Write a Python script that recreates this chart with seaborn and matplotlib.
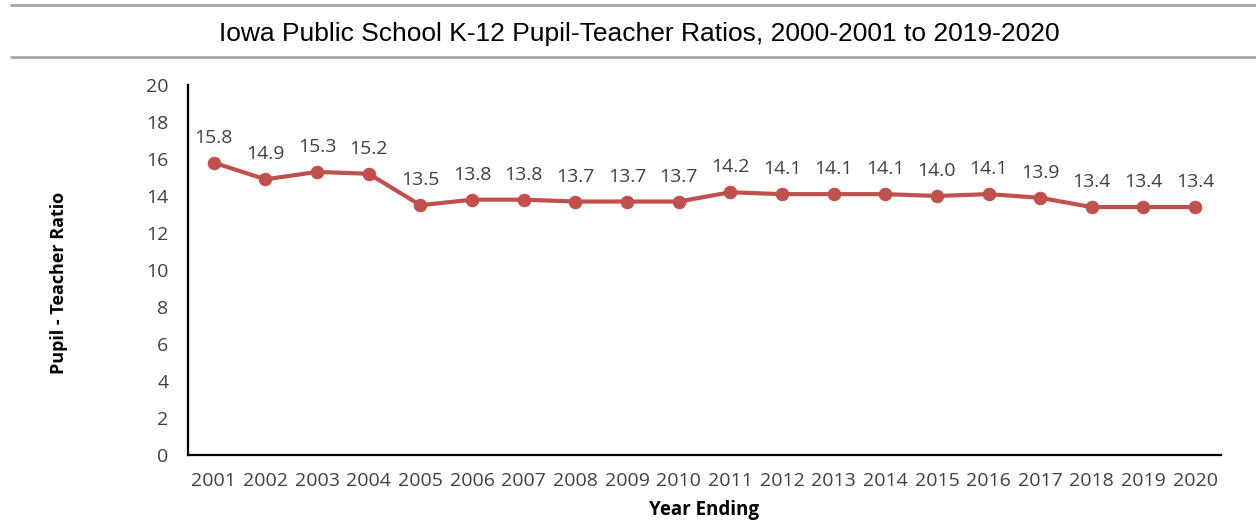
import matplotlib
matplotlib.use("Agg")
import matplotlib.pyplot as plt
from matplotlib.lines import Line2D
import pandas as pd
import seaborn as sns

# Chart data
years = ["2001", "2002", "2003", "2004", "2005", "2006", "2007", "2008", "2009", "2010",
         "2011", "2012", "2013", "2014", "2015", "2016", "2017", "2018", "2019", "2020"]
ratios = [15.8, 14.9, 15.3, 15.2, 13.5, 13.8, 13.8, 13.7, 13.7, 13.7,
          14.2, 14.1, 14.1, 14.1, 14.0, 14.1, 13.9, 13.4, 13.4, 13.4]
y_ticks = [0, 2, 4, 6, 8, 10, 12, 14, 16, 18, 20]

df = pd.DataFrame({"year": years, "ratio": ratios})
df["pos"] = range(len(df))

sns.set_style("white")
plt.rcParams["font.family"] = ["Open Sans", "DejaVu Sans"]

line_color = "#C0504D"
text_color = "#404040"

fig = plt.figure(figsize=(12.56, 5.22), dpi=100)
ax = fig.add_axes([0.1497, 0.1284, 0.8224, 0.7088])

sns.lineplot(data=df, x="pos", y="ratio", ax=ax, color=line_color, linewidth=3,
             marker="o", markersize=9, markeredgecolor=line_color)

# value labels above each point
for _, row in df.iterrows():
    ax.annotate(f"{row['ratio']:.1f}", (row["pos"], row["ratio"]),
                xytext=(0, 18), textcoords="offset points", ha="center", va="center",
                fontsize=14, color=text_color)

ax.set_xlim(-0.5, len(years) - 0.5)
ax.set_ylim(0, 20)
ax.set_xticks(df["pos"])
ax.set_xticklabels(years)
ax.set_yticks(y_ticks)
ax.tick_params(axis="both", length=0, labelsize=14, labelcolor=text_color)
ax.tick_params(axis="x", pad=12)
ax.tick_params(axis="y", pad=14)

for side in ["top", "right"]:
    ax.spines[side].set_visible(False)
for side in ["left", "bottom"]:
    ax.spines[side].set_color("black")
    ax.spines[side].set_linewidth(1.6)

ax.set_xlabel("Year Ending", fontsize=13.5, fontweight="bold", color="black")
ax.xaxis.set_label_coords(0.5, -0.122)
ax.set_ylabel("Pupil - Teacher Ratio", fontsize=13, fontweight="bold", color="black")
ax.yaxis.set_label_coords(-0.116, 0.465)

fig.text(0.509, 0.935, "Iowa Public School K-12 Pupil-Teacher Ratios, 2000-2001 to 2019-2020",
         ha="center", va="center", fontsize=19, family=["Liberation Sans", "DejaVu Sans"],
         color="black")

# gray rules above and below the title
for yy in [0.9904, 0.891]:
    fig.add_artist(Line2D([0.009, 1.0], [yy, yy], transform=fig.transFigure,
                          color="#A6A6A6", linewidth=2))

fig.savefig("out.png", dpi=100)
